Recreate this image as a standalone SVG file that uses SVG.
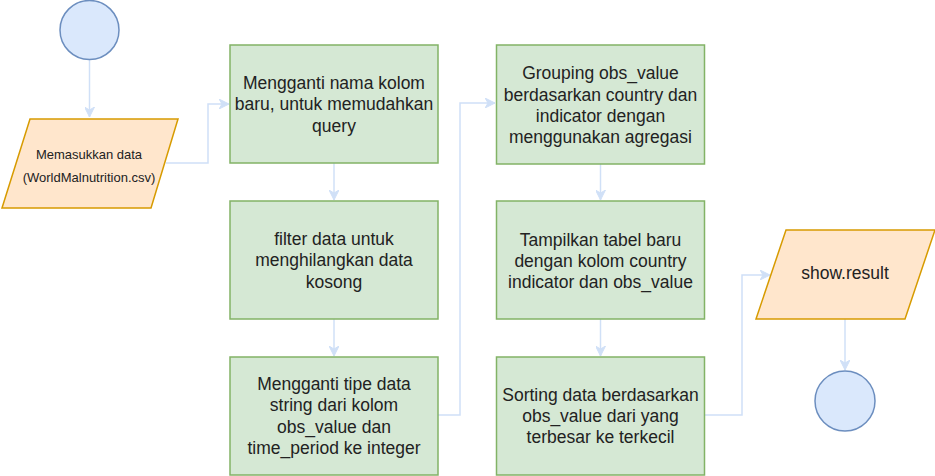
<svg xmlns="http://www.w3.org/2000/svg" width="935" height="476" viewBox="0 0 935 476">
<defs>
<style>
.proc{fill:#d5e8d4;stroke:#82b366;stroke-width:1.5}
.io{fill:#ffe6cc;stroke:#d79b00;stroke-width:1.5}
.term{fill:#dae8fc;stroke:#6c8ebf;stroke-width:1.5}
.edge{fill:none;stroke:#d0e0f7;stroke-width:1.5}
text{font-family:"Liberation Sans",Arial,sans-serif;font-size:17.5px;fill:#222;text-anchor:middle;dominant-baseline:central}
.small{font-size:13px}
</style>
<marker id="arr" markerWidth="12" markerHeight="10" refX="10" refY="5" orient="auto" markerUnits="userSpaceOnUse">
<path d="M0,0 L10,5 L0,10 L3,5 Z" fill="#d0e0f7" stroke="#d0e0f7" stroke-width="1"/>
</marker>
</defs>
<g id="connectors">
<path class="edge" d="M89.5,60 L89.5,117" marker-end="url(#arr)"/>
<path class="edge" d="M166,163 L208,163 L208,104 L229,104" marker-end="url(#arr)"/>
<path class="edge" d="M334,163 L334,200" marker-end="url(#arr)"/>
<path class="edge" d="M334,319 L334,356" marker-end="url(#arr)"/>
<path class="edge" d="M438,415 L460,415 L460,103 L495,103" marker-end="url(#arr)"/>
<path class="edge" d="M600.5,164 L600.5,200" marker-end="url(#arr)"/>
<path class="edge" d="M600.5,319 L600.5,356" marker-end="url(#arr)"/>
<path class="edge" d="M705,415 L742,415 L742,275 L770,275" marker-end="url(#arr)"/>
<path class="edge" d="M845,319 L845,370" marker-end="url(#arr)"/>
</g>
<g id="start">
<circle class="term" cx="89.5" cy="30" r="29.5"/>
</g>
<g id="input">
<polygon class="io" points="30,119 178,119 151,208 2,208"/>
<text class="small" x="89" y="154">Memasukkan data</text>
<text class="small" x="89" y="177">(WorldMalnutrition.csv)</text>
</g>
<g id="rename">
<rect class="proc" x="230" y="45" width="208" height="118"/>
<text x="334" y="83">Mengganti nama kolom</text>
<text x="334" y="104">baru, untuk memudahkan</text>
<text x="334" y="126">query</text>
</g>
<g id="filter">
<rect class="proc" x="230" y="201" width="208" height="118"/>
<text x="334" y="239">filter data untuk</text>
<text x="334" y="260">menghilangkan data</text>
<text x="334" y="282">kosong</text>
</g>
<g id="convert">
<rect class="proc" x="230" y="357" width="208" height="118"/>
<text x="334" y="384">Mengganti tipe data</text>
<text x="334" y="405">string dari kolom</text>
<text x="334" y="427">obs_value dan</text>
<text x="334" y="448">time_period ke integer</text>
</g>
<g id="grouping">
<rect class="proc" x="496.5" y="45" width="208" height="119"/>
<text x="600.5" y="73">Grouping obs_value</text>
<text x="600.5" y="95">berdasarkan country dan</text>
<text x="600.5" y="116">indicator dengan</text>
<text x="600.5" y="137">menggunakan agregasi</text>
</g>
<g id="tampilkan">
<rect class="proc" x="496.5" y="201" width="208" height="118"/>
<text x="600.5" y="240">Tampilkan tabel baru</text>
<text x="600.5" y="261">dengan kolom country</text>
<text x="600.5" y="282">indicator dan obs_value</text>
</g>
<g id="sorting">
<rect class="proc" x="496.5" y="357" width="208" height="118"/>
<text x="600.5" y="395">Sorting data berdasarkan</text>
<text x="600.5" y="416">obs_value dari yang</text>
<text x="600.5" y="437">terbesar ke terkecil</text>
</g>
<g id="output">
<polygon class="io" points="786,230 935,230 905,319 756,319"/>
<text x="845" y="273">show.result</text>
</g>
<g id="end">
<circle class="term" cx="845" cy="401" r="30"/>
</g>
</svg>
